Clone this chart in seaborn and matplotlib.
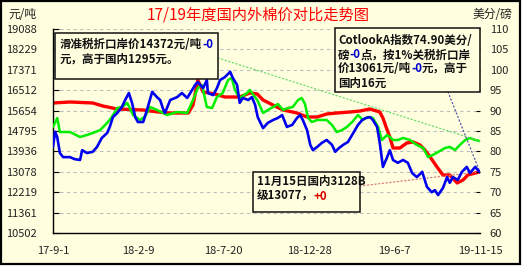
import numpy as np
import pandas as pd
import matplotlib
matplotlib.use("Agg")
import matplotlib.pyplot as plt
import seaborn as sns
from matplotlib.transforms import IdentityTransform
from matplotlib.patches import Rectangle

# ---------------- data ----------------
start_date = "2017-09-01"

# domestic 3128B price (yuan/ton), days since start
red_days = [0, 32, 75, 94, 121, 170, 183, 215, 255, 264, 273, 283, 305, 324, 352, 371, 385, 396,
            422, 434, 460, 479, 498, 516, 535, 560, 579, 597, 616, 622, 630, 635, 641, 654, 667,
            679, 692, 701, 711, 724, 735, 748, 762, 773, 782, 796, 805]
red_vals = [15974, 16016, 15974, 15847, 15721, 15679, 15637, 15553, 15553, 15890, 16942, 16437,
            16353, 16226, 16226, 16395, 16353, 16100, 15805, 15679, 15553, 15384, 15384, 15511,
            15553, 15595, 15637, 15721, 15595, 15342, 14837, 14543, 14080, 14080, 14290, 14332,
            14206, 13995, 13701, 13280, 12943, 12943, 12607, 12733, 12943, 13027, 13077]

# sliding-scale duty import price (yuan/ton)
green_days = [0, 8, 13, 32, 51, 64, 75, 89, 102, 111, 121, 130, 140, 151, 164, 173, 183, 196, 215,
              234, 253, 264, 273, 281, 290, 300, 309, 320, 330, 337, 343, 352, 366, 371, 385, 396,
              405, 415, 424, 434, 443, 452, 462, 469, 475, 481, 488, 498, 507, 516, 526, 535, 545,
              554, 564, 575, 584, 594, 603, 613, 620, 630, 635, 641, 650, 660, 673, 686, 698, 707,
              716, 726, 739, 748, 758, 767, 777, 786, 796, 805]
green_vals = [14964, 15342, 14753, 14753, 14543, 14627, 14711, 14837, 15132, 15384, 15763, 15805,
              15974, 15469, 15258, 15384, 15805, 15679, 15469, 15595, 15553, 16100, 16605, 16731,
              15805, 15763, 16226, 16395, 16942, 17026, 16521, 16184, 16395, 16521, 16100, 15553,
              15679, 15805, 15932, 15679, 15763, 15805, 16100, 16184, 15932, 15342, 15174, 15258,
              15258, 15258, 15048, 14753, 14837, 14964, 15174, 15469, 15258, 15384, 15342, 14964,
              14416, 14627, 14543, 14416, 14416, 14501, 14416, 14206, 14080, 13701, 13785, 13911,
              14080, 14122, 13995, 14206, 14416, 14501, 14416, 14372]

# Cotlook A index (US cents/lb)
blue_days = [0, 4, 8, 13, 19, 32, 41, 51, 55, 64, 75, 83, 92, 102, 107, 113, 121, 130, 136, 143,
             149, 155, 160, 170, 177, 187, 196, 202, 207, 211, 221, 234, 243, 253, 262, 268, 273,
             283, 290, 292, 302, 309, 315, 324, 334, 339, 347, 352, 358, 368, 375, 381, 386, 396,
             405, 415, 424, 432, 441, 451, 460, 466, 471, 479, 485, 490, 498, 507, 516, 526, 532,
             539, 547, 556, 566, 575, 583, 590, 598, 603, 611, 616, 622, 630, 635, 641, 650, 660,
             669, 677, 686, 696, 705, 714, 720, 726, 735, 743, 748, 754, 763, 771, 780, 786, 796,
             801, 805]
blue_vals = [81.1, 84.8, 83.5, 79.6, 78.6, 78.6, 78.1, 77.9, 80.3, 79.6, 79.9, 81.1, 83.3, 84.5,
             86.0, 88.4, 89.4, 90.9, 92.6, 94.3, 91.9, 88.4, 87.2, 87.2, 90.1, 94.6, 93.3, 92.6,
             90.6, 89.4, 92.6, 93.3, 94.3, 93.1, 95.0, 96.3, 97.0, 95.5, 97.5, 94.3, 93.8, 95.5,
             97.5, 98.2, 99.5, 98.0, 96.3, 91.9, 93.1, 92.6, 93.3, 91.4, 88.4, 85.7, 87.0, 87.7,
             88.2, 88.9, 86.0, 86.5, 88.2, 88.9, 87.7, 85.2, 81.6, 80.3, 81.1, 82.1, 82.8, 81.6,
             79.9, 80.8, 81.6, 82.3, 84.5, 86.5, 87.7, 88.2, 88.4, 87.7, 86.0, 82.1, 76.2, 78.6,
             80.3, 77.9, 77.2, 77.9, 77.2, 74.7, 73.7, 75.0, 71.3, 70.0, 70.5, 69.3, 71.0, 73.7,
             72.3, 73.7, 73.0, 75.0, 76.2, 74.7, 76.2, 75.4, 74.9]

left_ticks = [10502, 11361, 12219, 13078, 13936, 14795, 15654, 16512, 17371, 18229, 19088]
right_ticks = [60, 65, 70, 75, 80, 85, 90, 95, 100, 105, 110]
x_tick_dates = ["2017-09-01", "2018-02-09", "2018-07-20", "2018-12-28", "2019-06-07", "2019-11-15"]
x_tick_labels = ["17-9-1", "18-2-9", "18-7-20", "18-12-28", "19-6-7", "19-11-15"]

title_text = "17/19年度国内外棉价对比走势图"
left_unit = "元/吨"
right_unit = "美分/磅"

# ---------------- styling ----------------
W, H = 523, 267
BG = "#FFFFE0"
sns.set_style("white")
plt.rcParams["font.family"] = ["Noto Sans CJK SC", "DejaVu Sans"]
plt.rcParams["axes.unicode_minus"] = False

t0 = pd.Timestamp(start_date)
dom = pd.DataFrame({"date": t0 + pd.to_timedelta(red_days, unit="D"), "v": red_vals})
slide = pd.DataFrame({"date": t0 + pd.to_timedelta(green_days, unit="D"), "v": green_vals})
cot = pd.DataFrame({"date": t0 + pd.to_timedelta(blue_days, unit="D"), "v": blue_vals})

fig = plt.figure(figsize=(W / 100, H / 100), dpi=100, facecolor="white")
# outer yellow panel with black border
fig.add_artist(Rectangle((0.5, H - 264), 519.5, 263.5, transform=IdentityTransform(),
                         facecolor=BG, edgecolor="black", lw=1.6, zorder=-5))

ax = fig.add_axes([53 / W, 1 - 233 / H, (480 - 53) / W, (233 - 29) / H])
ax.set_facecolor(BG)
ax.patch.set_alpha(0)
ax2 = ax.twinx()

sns.lineplot(data=dom, x="date", y="v", ax=ax, color="#FF0000", lw=2.4, zorder=2)
sns.lineplot(data=slide, x="date", y="v", ax=ax, color="#00EE00", lw=1.8, zorder=3)
sns.lineplot(data=cot, x="date", y="v", ax=ax2, color="#0000EE", lw=1.9, zorder=4)

xmin, xmax = pd.Timestamp(x_tick_dates[0]), pd.Timestamp(x_tick_dates[-1])
ax.set_xlim(xmin, xmax)
ax.set_ylim(left_ticks[0], left_ticks[-1])
ax2.set_ylim(right_ticks[0], right_ticks[-1])
ax.set_yticks(left_ticks)
ax.set_yticklabels([str(v) for v in left_ticks])
ax2.set_yticks(right_ticks)
ax2.set_yticklabels([str(v) for v in right_ticks])
ax.set_xticks(pd.to_datetime(x_tick_dates))
ax.set_xticklabels(x_tick_labels)
for a in (ax, ax2):
    a.set_xlabel("")
    a.set_ylabel("")

ax.yaxis.grid(True, color="#BDBDBD", linestyle=(0, (3, 3)), lw=0.8)
ax.xaxis.grid(False)
ax.set_axisbelow(True)

for s in ("top", "right"):
    ax.spines[s].set_visible(False)
for s in ("left", "bottom"):
    ax.spines[s].set_color("black")
    ax.spines[s].set_linewidth(1.0)
for s in ax2.spines.values():
    s.set_visible(False)

ax.tick_params(axis="y", direction="in", length=4, width=0.8, pad=11.5, labelsize=8,
               colors="black", labelcolor="#222222")
ax.tick_params(axis="x", direction="in", length=3.5, width=0.8, pad=9, labelsize=8,
               colors="black", labelcolor="#222222")
ax2.tick_params(axis="y", direction="in", length=3, width=0.8, pad=7, labelsize=8,
                colors="black", labelcolor="#222222")

# header texts
tr = IdentityTransform()
fig.text(258.5, H - 15, title_text, transform=tr, ha="center", va="center",
         color="#FF0000", fontsize=11)
fig.text(8, H - 15, left_unit, transform=tr, ha="left", va="center", color="#222222", fontsize=8.5)
fig.text(512, H - 15, right_unit, transform=tr, ha="right", va="center", color="#222222",
         fontsize=8.5)

# annotation boxes
def box(x0, y0, x1, y1):
    fig.add_artist(Rectangle((x0, H - y1), x1 - x0, y1 - y0, transform=tr,
                             facecolor=BG, edgecolor="#111111", lw=1.1, zorder=4))

fig.canvas.draw()
renderer = fig.canvas.get_renderer()

def rich(x, y, parts, size=8.3):
    for s, c in parts:
        t = fig.text(x, H - y, s, transform=tr, ha="left", va="center", color=c,
                     fontsize=size, fontweight="bold", zorder=6)
        x += t.get_window_extent(renderer=renderer).width

K, B, R = "#111111", "#0000CC", "#DD0000"

box(55, 33, 218, 79)
rich(60, 44, [("滑准税折口岸价14372元/吨", K), ("-0", B)])
rich(60, 59, [("元，高于国内1295元。", K)])

box(335, 28, 480, 92)
rich(338, 41, [("CotlookA指数74.90美分/", K)])
rich(338, 55, [("磅", K), ("-0", B), ("点，按1%关税折口岸", K)])
rich(338, 69, [("价13061元/吨", K), ("-0", B), ("元，高于", K)])
rich(338, 83, [("国内16元", K)])

box(253, 172, 360, 212)
rich(257, 181, [("11月15日国内3128B", K)])
rich(257, 196, [("级13077，", K), ("+0", R)])

# dotted leader lines to the last points
ax.annotate("", xy=(slide["date"].iloc[-1], slide["v"].iloc[-1]), xycoords="data",
            xytext=(218, H - 58), textcoords="figure pixels",
            arrowprops=dict(arrowstyle="-", color="#66DD66", lw=0.9, linestyle=(0, (1, 2)),
                            shrinkA=0, shrinkB=0))
ax2.annotate("", xy=(cot["date"].iloc[-1], cot["v"].iloc[-1]), xycoords="data",
             xytext=(448, H - 92), textcoords="figure pixels",
             arrowprops=dict(arrowstyle="-", color="#5555AA", lw=0.9, linestyle=(0, (1, 2)),
                             shrinkA=0, shrinkB=0))
ax.annotate("", xy=(dom["date"].iloc[-1], dom["v"].iloc[-1]), xycoords="data",
            xytext=(360, H - 186), textcoords="figure pixels",
            arrowprops=dict(arrowstyle="-", color="#DD7777", lw=0.9, linestyle=(0, (1, 2)),
                            shrinkA=0, shrinkB=0))

fig.savefig("out.png", dpi=100, facecolor="white")
